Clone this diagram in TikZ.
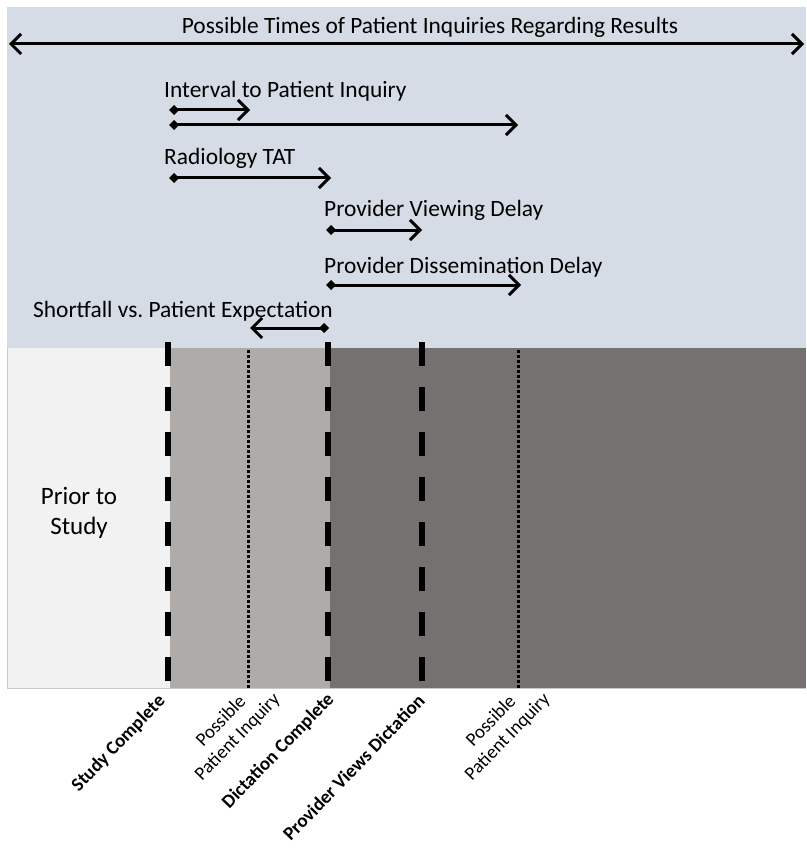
\documentclass[tikz,border=0pt]{standalone}
\usepackage{fontspec}
\setmainfont{Carlito}
\usetikzlibrary{arrows.meta}
\frenchspacing

\definecolor{panelblue}{HTML}{D6DCE5}
\definecolor{priorgray}{HTML}{F2F2F2}
\definecolor{waitgray}{HTML}{AEABA8}
\definecolor{aftergray}{HTML}{757170}
\definecolor{edgegray}{HTML}{C8C8C8}

\begin{document}
\begin{tikzpicture}[x=1pt,y=-1pt,
  lbl/.style={font=\fontsize{23.4}{27}\selectfont, inner sep=0pt, anchor=base west},
  span/.style={line width=3pt, {Diamond[length=10pt,width=10pt]}-{Straight Barb[length=10pt,width=20pt]}},
  wide/.style={line width=3pt, {Straight Barb[length=10pt,width=20pt]}-{Straight Barb[length=10pt,width=20pt]}},
  milestone/.style={line width=6pt, dash pattern=on 24pt off 21pt},
  inquiry/.style={line width=3pt, dash pattern=on 2.5pt off 2.5pt},
  eventlbl/.style={font=\fontsize{19}{23}\selectfont\bfseries, inner sep=0pt, rotate=46, anchor=base east},
  inqlbl/.style={font=\fontsize{19}{23}\selectfont, inner sep=0pt, rotate=46, anchor=base east, align=center}]

\useasboundingbox (0,0) rectangle (806,850);
\fill[white] (0,0) rectangle (806,850);

% background bands
\fill[panelblue] (7,7) rectangle (806,348);
\fill[priorgray] (7,348) rectangle (170,688);
\fill[waitgray] (170,348) rectangle (330,688);
\fill[aftergray] (330,348) rectangle (806,688);
\draw[edgegray, line width=1pt] (7,348) -- (7,688) -- (806,688);

% milestone lines
\coordinate (scTop) at (168,342);  \coordinate (scBot) at (168,688);
\coordinate (dcTop) at (328,342);  \coordinate (dcBot) at (328,688);
\coordinate (pvTop) at (422,342);  \coordinate (pvBot) at (422,688);
\coordinate (iaTop) at (248,350);  \coordinate (iaBot) at (248,688);
\coordinate (ibTop) at (518,350);  \coordinate (ibBot) at (518,688);
\draw[milestone] (scTop) -- (scBot);
\draw[milestone] (dcTop) -- (dcBot);
\draw[milestone] (pvTop) -- (pvBot);
\draw[inquiry] (iaTop) -- (iaBot);
\draw[inquiry] (ibTop) -- (ibBot);

% interval arrows
\node[lbl, anchor=base] (title) at (430,34) {Possible Times of Patient Inquiries Regarding Results};
\coordinate (allL) at (9,44);  \coordinate (allR) at (804,44);
\draw[wide] (allL) -- (allR);

\node[lbl] (interval) at (164,98) {Interval to Patient Inquiry};
\coordinate (i1s) at (169,110); \coordinate (i1e) at (250,110);
\coordinate (i2s) at (169,125); \coordinate (i2e) at (518,125);
\draw[span] (i1s) -- (i1e);
\draw[span] (i2s) -- (i2e);

\node[lbl] (tat) at (164,165) {Radiology TAT};
\coordinate (ts) at (169,178); \coordinate (te) at (331,178);
\draw[span] (ts) -- (te);

\node[lbl] (viewing) at (324,217) {Provider Viewing Delay};
\coordinate (vs) at (326,230); \coordinate (ve) at (422,230);
\draw[span] (vs) -- (ve);

\node[lbl] (dissem) at (324,273) {Provider Dissemination Delay};
\coordinate (ds) at (326,285); \coordinate (de) at (521,285);
\draw[span] (ds) -- (de);

\node[lbl] (shortfall) at (33,317) {Shortfall vs. Patient Expectation};
\coordinate (ss) at (329,328); \coordinate (se) at (250,328);
\draw[span] (ss) -- (se);

% prior region label
\node[font=\fontsize{25}{30}\selectfont, align=center, inner sep=0pt, anchor=base] (prior) at (79,534) {Prior to\\Study};

% milestone labels
\node[eventlbl] (studyc) at (166,702) {Study Complete};
\node[eventlbl] (dictc) at (335,700) {Dictation Complete};
\node[eventlbl] (views) at (426,702) {Provider Views Dictation};
\node[inqlbl] (inqA) at (281,700) {Possible\\Patient Inquiry};
\node[inqlbl] (inqB) at (551,700) {Possible\\Patient Inquiry};

\end{tikzpicture}
\end{document}
